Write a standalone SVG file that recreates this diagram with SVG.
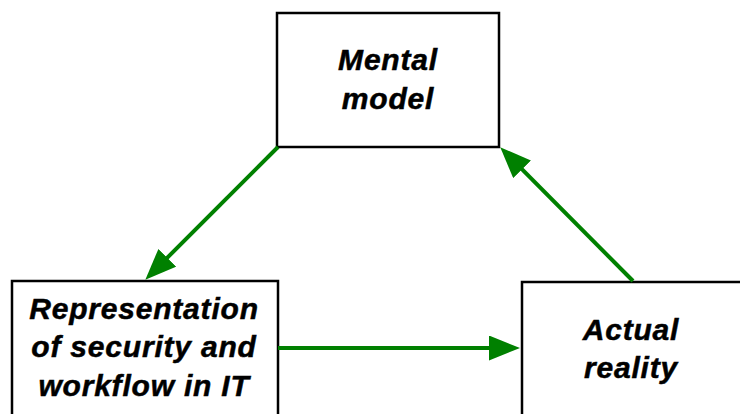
<svg xmlns="http://www.w3.org/2000/svg" width="740" height="414" viewBox="0 0 740 414">
<style>
.box{fill:#fff;stroke:#000;stroke-width:2.5}
.lbl{font-family:"Liberation Sans",Arial,sans-serif;font-weight:bold;font-style:italic;font-size:30px;letter-spacing:0.8px;text-anchor:middle;fill:#000;stroke:#000;stroke-width:0.5}
.conn{stroke:#008000;stroke-width:4;fill:none;marker-end:url(#ah)}
</style>
<defs>
<marker id="ah" markerUnits="userSpaceOnUse" markerWidth="32" markerHeight="26" refX="20" refY="12.5" orient="auto">
<path d="M0,0 L31,12.5 L0,25 z" fill="#008000"/>
</marker>
</defs>
<rect width="740" height="414" fill="#fff"/>
<g id="mental">
<rect class="box" x="277" y="13" width="222" height="134"/>
<text class="lbl" x="388" y="70">Mental</text>
<text class="lbl" x="388" y="109">model</text>
</g>
<g id="representation">
<rect class="box" x="12" y="281" width="266" height="145"/>
<text class="lbl" x="144" y="319">Representation</text>
<text class="lbl" x="144" y="357">of security and</text>
<text class="lbl" x="144" y="396">workflow in IT</text>
</g>
<g id="actual">
<rect class="box" x="522" y="282" width="235" height="145"/>
<text class="lbl" x="631" y="340">Actual</text>
<text class="lbl" x="631" y="378">reality</text>
</g>
<g id="connectors">
<line class="conn" x1="278" y1="147" x2="153.1" y2="271.9"/>
<line class="conn" x1="633" y1="281" x2="508" y2="155.1"/>
<line class="conn" x1="278" y1="348" x2="509" y2="348"/>
</g>
</svg>
